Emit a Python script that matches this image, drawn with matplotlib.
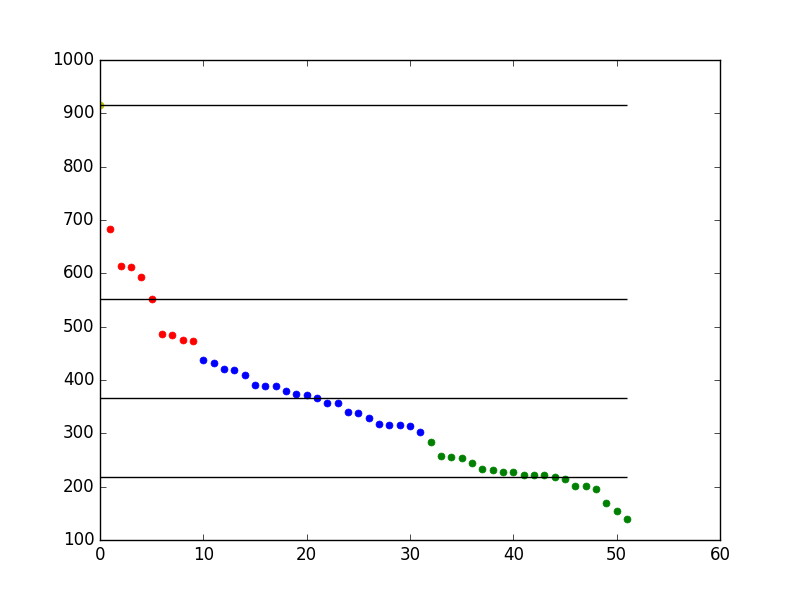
import matplotlib
matplotlib.use("Agg")
import matplotlib.pyplot as plt

plt.style.use("classic")

values = [916, 683, 614, 612, 593, 552, 486, 484, 475, 473,
          437, 432, 420, 419, 409, 391, 389, 389, 379, 374,
          372, 366, 357, 357, 340, 338, 329, 317, 316, 316,
          314, 302, 284, 257, 256, 254, 244, 233, 231, 228,
          228, 222, 222, 222, 218, 214, 201, 201, 196, 169,
          154, 139]
# class boundaries (index ranges) and colours
groups = [(0, 1, "y"), (1, 10, "r"), (10, 32, "b"), (32, 52, "g")]
breaks = [916, 552, 366, 218]

fig = plt.figure(figsize=(8, 6), dpi=100)
ax = fig.add_subplot(111)

for start, end, col in groups:
    xs = list(range(start, end))
    ax.plot(xs, values[start:end], "o", color=col, mec=col, markersize=5)

for b in breaks:
    ax.hlines(b, 0, len(values) - 1, colors="k")

ax.set_xlim(0, 60)
ax.set_ylim(100, 1000)

fig.savefig("out.png", dpi=100)
